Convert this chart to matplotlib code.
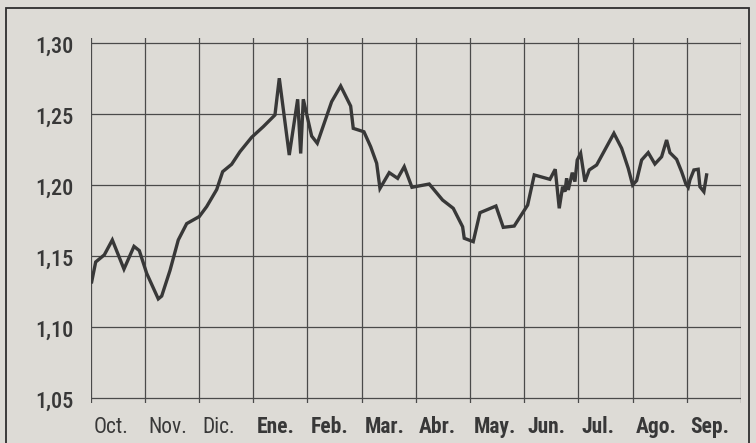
import matplotlib
matplotlib.use("Agg")
import matplotlib.pyplot as plt
from matplotlib.patches import Rectangle

plt.rcParams['font.family'] = ['Roboto Condensed', 'Archivo Narrow', 'DejaVu Sans']

months = ["Oct.", "Nov.", "Dic.", "Ene.", "Feb.", "Mar.", "Abr.", "May.", "Jun.", "Jul.", "Ago.", "Sep."]
bold_months = [False, False, False, True, True, True, True, True, True, True, True, True]
y_ticks = [1.05, 1.10, 1.15, 1.20, 1.25, 1.30]
y_labels = ["1,05", "1,10", "1,15", "1,20", "1,25", "1,30"]

# position in months since start of October
t = [0.018, 0.092, 0.251, 0.399, 0.614, 0.799, 0.897, 1.033, 1.247, 1.310,
     1.463, 1.616, 1.771, 2.004, 2.140, 2.325, 2.435, 2.601, 2.755, 2.970,
     3.185, 3.400, 3.480, 3.664, 3.819, 3.875, 3.923, 4.077, 4.181, 4.446,
     4.613, 4.797, 4.845, 5.042, 5.166, 5.277, 5.338, 5.509, 5.664, 5.786,
     5.928, 6.247, 6.494, 6.690, 6.863, 6.893, 7.059, 7.183, 7.478, 7.613,
     7.815, 8.063, 8.185, 8.474, 8.572, 8.646, 8.708, 8.751, 8.782, 8.812,
     8.856, 8.886, 8.935, 8.978, 9.041, 9.120, 9.199, 9.336, 9.655, 9.797,
     9.919, 10.000, 10.074, 10.166, 10.288, 10.411, 10.535, 10.627, 10.688, 10.812,
     10.904, 10.983, 11.026, 11.057, 11.131, 11.210, 11.242, 11.315, 11.365]
rate = [1.132, 1.146, 1.151, 1.1615, 1.141, 1.157, 1.154, 1.138, 1.120, 1.122,
        1.140, 1.1615, 1.173, 1.178, 1.185, 1.197, 1.2096, 1.2148, 1.2237, 1.2338,
        1.2413, 1.2495, 1.2754, 1.2213, 1.2606, 1.2224, 1.2606, 1.2347, 1.2296, 1.2589,
        1.2699, 1.2558, 1.2401, 1.2377, 1.2272, 1.2155, 1.1978, 1.2089, 1.2049, 1.2131,
        1.1986, 1.2009, 1.1896, 1.1838, 1.1708, 1.1627, 1.1603, 1.1807, 1.1854, 1.1704,
        1.1713, 1.1861, 1.2073, 1.2042, 1.2113, 1.1838, 1.1990, 1.1955, 1.2049, 1.1967,
        1.2037, 1.2089, 1.2026, 1.2178, 1.2225, 1.2026, 1.2108, 1.2143, 1.2366, 1.2261,
        1.2120, 1.2002, 1.2033, 1.2178, 1.2230, 1.2150, 1.2201, 1.2319, 1.2230, 1.2183,
        1.2096, 1.2009, 1.1986, 1.2037, 1.2108, 1.2113, 1.1990, 1.1955, 1.2073]

W, H = 756, 443
bg = '#dddbd6'
ink = '#383838'
fig = plt.figure(figsize=(W / 100, H / 100), dpi=100, facecolor=bg)

left, right, top, bottom = 90.7, 741.0, 38.0, 403.0
ax = fig.add_axes([left / W, (H - bottom) / H, (right - left) / W, (bottom - top) / H])
ax.set_facecolor(bg)
ax.set_xlim(0, 12)
ax.set_ylim(1.04669, 1.30373)
for s in ax.spines.values():
    s.set_visible(False)
ax.set_xticks([])
ax.set_yticks([])

for yv in y_ticks:
    ax.hlines(yv, 0, 12, color='#4a4a4a', lw=0.9, zorder=1)
for i in range(13):
    ax.axvline(i, color='#4a4a4a', lw=0.9, zorder=1)

ax.plot(t, rate, color=ink, lw=2.4, solid_joinstyle='miter', zorder=3)

for yv, lab in zip(y_ticks, y_labels):
    ax.text(-0.32, yv - 0.0025, lab, ha='right', va='center', fontsize=16,
            fontweight='medium', color=ink, clip_on=False)

xt = ax.get_xaxis_transform()
for i, (m, b) in enumerate(zip(months, bold_months)):
    ax.text(i + 0.06, -0.067, m, transform=xt, ha='left', va='center',
            fontsize=15.5, color=ink, fontweight='bold' if b else 'normal',
            clip_on=False)

fig.patches.append(Rectangle((6 / W, -0.02), (749 - 6) / W, (H - 8) / H + 0.02,
                             transform=fig.transFigure, fill=False,
                             edgecolor='#2e2e2e', lw=1.3))

fig.savefig('out.png', dpi=100, facecolor=bg)
